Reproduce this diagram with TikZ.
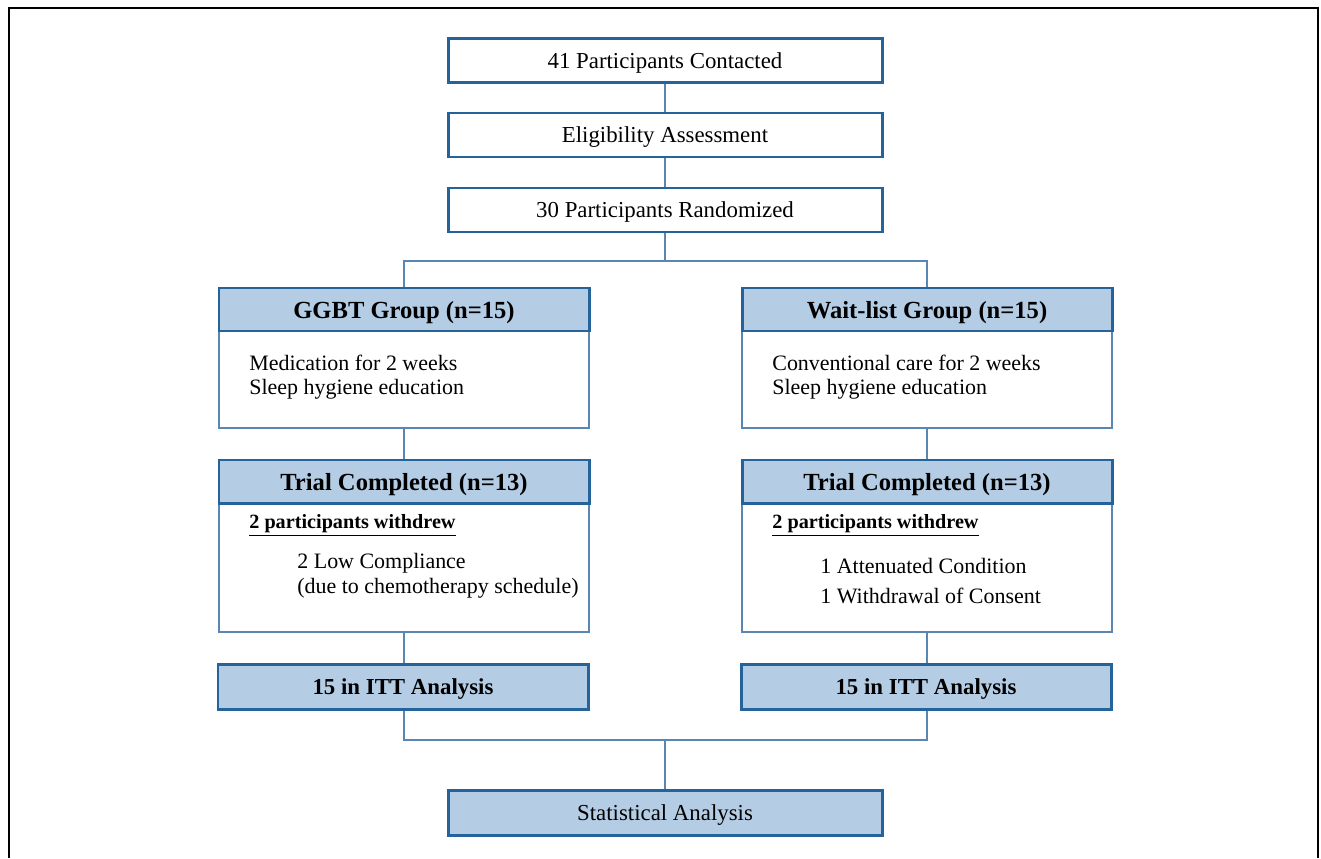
\documentclass[tikz,border=0pt]{standalone}
\usepackage{fontspec}
\setmainfont{Liberation Serif}
\definecolor{boxedge}{HTML}{24649A}
\definecolor{boxfill}{HTML}{B4CDE4}
\definecolor{linkblue}{HTML}{5A86B4}
\begin{document}
\begin{tikzpicture}[
  stepbox/.style={draw=boxedge, line width=1.7pt, fill=white, minimum width=8.68cm, minimum height=0.88cm, inner sep=0pt, text depth=0pt, font=\fontsize{13}{15}\selectfont},
  headbox/.style={draw=boxedge, line width=1.7pt, fill=boxfill, minimum width=7.4cm, minimum height=0.86cm, inner sep=0pt, text depth=0pt, font=\bfseries\fontsize{14}{16}\selectfont},
  bodybox/.style={draw=linkblue, line width=0.6pt, fill=white, minimum width=7.4cm, inner sep=0pt},
  itembox/.style={anchor=west, inner sep=0pt, font=\fontsize{12.5}{14}\selectfont},
  link/.style={draw=linkblue, line width=0.8pt}]
\useasboundingbox (0,0) rectangle (26.42,17.16);
% frame
\draw[line width=1.1pt] (0.18,0) -- (0.18,17.0) -- (26.36,17.0) -- (26.36,0);

% top column
\node[stepbox] (contact) at (13.3,15.95) {41 Participants Contacted};
\node[stepbox] (elig) at (13.3,14.46) {Eligibility Assessment};
\node[stepbox] (rand) at (13.3,12.96) {30 Participants Randomized};
\coordinate (split) at (13.3,11.94);

% groups
\node[bodybox, minimum height=1.96cm] (ggbtbody) at (8.08,9.58) {};
\node[headbox] (ggbt) at (8.08,10.97) {GGBT Group (n=15)};
\node[itembox] (ggbtA) at (4.98,9.90) {Medication for 2 weeks};
\node[itembox] (ggbtB) at (4.98,9.38) {Sleep hygiene education};

\node[bodybox, minimum height=1.96cm] (waitbody) at (18.54,9.58) {};
\node[headbox] (wait) at (18.54,10.97) {Wait-list Group (n=15)};
\node[itembox] (waitA) at (15.44,9.90) {Conventional care for 2 weeks};
\node[itembox] (waitB) at (15.44,9.38) {Sleep hygiene education};

% completion
\node[bodybox, minimum height=2.58cm] (donebodyL) at (8.08,5.81) {};
\node[headbox] (doneL) at (8.08,7.53) {Trial Completed (n=13)};
\node[itembox, font=\bfseries\fontsize{11.5}{13}\selectfont] (dropL) at (4.98,6.66) {\underline{2 participants withdrew}};
\node[itembox] (dropLA) at (5.94,5.90) {2 Low Compliance};
\node[itembox] (dropLB) at (5.94,5.40) {(due to chemotherapy schedule)};

\node[bodybox, minimum height=2.58cm] (donebodyR) at (18.54,5.81) {};
\node[headbox] (doneR) at (18.54,7.53) {Trial Completed (n=13)};
\node[itembox, font=\bfseries\fontsize{11.5}{13}\selectfont] (dropR) at (15.44,6.66) {\underline{2 participants withdrew}};
\node[itembox] (dropRA) at (16.40,5.84) {1 Attenuated Condition};
\node[itembox] (dropRB) at (16.40,5.24) {1 Withdrawal of Consent};

% analysis
\node[headbox, minimum height=0.9cm, font=\bfseries\fontsize{13}{15}\selectfont] (ittL) at (8.06,3.43) {15 in ITT Analysis};
\node[headbox, minimum height=0.9cm, font=\bfseries\fontsize{13}{15}\selectfont] (ittR) at (18.52,3.43) {15 in ITT Analysis};
\coordinate (merge) at (13.3,2.36);
\node[stepbox, fill=boxfill, minimum height=0.9cm] (stats) at (13.3,0.91) {Statistical Analysis};

% connectors
\draw[link] (contact) -- (elig);
\draw[link] (elig) -- (rand);
\draw[link] (rand) -- (split);
\draw[link] (ggbt.north) |- (split) -| (wait.north);
\draw[link] (ggbtbody.south) -- (doneL.north);
\draw[link] (waitbody.south) -- (doneR.north);
\draw[link] (donebodyL.south) -- (ittL.north -| donebodyL.south);
\draw[link] (donebodyR.south) -- (ittR.north -| donebodyR.south);
\draw[link] (ittL.south -| donebodyL.south) |- (merge) -| (ittR.south -| donebodyR.south);
\draw[link] (merge) -- (stats);
\end{tikzpicture}
\end{document}
